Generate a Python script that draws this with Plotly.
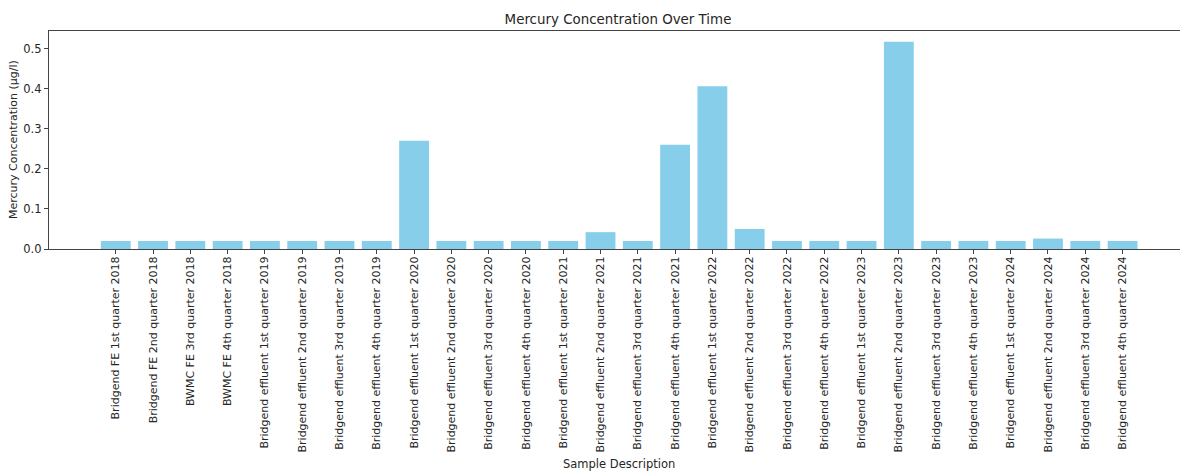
import plotly.graph_objects as go

categories = [
    "Bridgend FE 1st quarter 2018",
    "Bridgend FE 2nd quarter 2018",
    "BWMC FE 3rd quarter 2018",
    "BWMC FE 4th quarter 2018",
    "Bridgend effluent 1st quarter 2019",
    "Bridgend effluent 2nd quarter 2019",
    "Bridgend effluent 3rd quarter 2019",
    "Bridgend effluent 4th quarter 2019",
    "Bridgend effluent 1st quarter 2020",
    "Bridgend effluent 2nd quarter 2020",
    "Bridgend effluent 3rd quarter 2020",
    "Bridgend effluent 4th quarter 2020",
    "Bridgend effluent 1st quarter 2021",
    "Bridgend effluent 2nd quarter 2021",
    "Bridgend effluent 3rd quarter 2021",
    "Bridgend effluent 4th quarter 2021",
    "Bridgend effluent 1st quarter 2022",
    "Bridgend effluent 2nd quarter 2022",
    "Bridgend effluent 3rd quarter 2022",
    "Bridgend effluent 4th quarter 2022",
    "Bridgend effluent 1st quarter 2023",
    "Bridgend effluent 2nd quarter 2023",
    "Bridgend effluent 3rd quarter 2023",
    "Bridgend effluent 4th quarter 2023",
    "Bridgend effluent 1st quarter 2024",
    "Bridgend effluent 2nd quarter 2024",
    "Bridgend effluent 3rd quarter 2024",
    "Bridgend effluent 4th quarter 2024",
]

mercury = [
    0.02, 0.02, 0.02, 0.02,
    0.02, 0.02, 0.02, 0.02,
    0.27, 0.02, 0.02, 0.02,
    0.02, 0.042, 0.02, 0.26,
    0.406, 0.05, 0.02, 0.02,
    0.02, 0.517, 0.02, 0.02,
    0.02, 0.026, 0.02, 0.02,
]

y_ticks = [0.0, 0.1, 0.2, 0.3, 0.4, 0.5]
y_tick_labels = ["0.0", "0.1", "0.2", "0.3", "0.4", "0.5"]

FONT = "DejaVu Sans, Liberation Sans, sans-serif"
TXT = "#262626"
AX = "#444444"

W, H = 1180, 471
L, R, T, B = 49, 0, 31, 222

fig = go.Figure(
    go.Bar(
        x=list(range(len(categories))),
        y=mercury,
        marker=dict(color="#87CEEB", line=dict(width=0)),
        width=0.8,
    )
)

fig.update_layout(
    width=W,
    height=H,
    margin=dict(l=L, r=R, t=T, b=B, autoexpand=False),
    paper_bgcolor="white",
    plot_bgcolor="white",
    showlegend=False,
    font=dict(family=FONT, size=11, color=TXT),
    title=dict(
        text="Mercury Concentration Over Time",
        x=618 / W, xanchor="center",
        y=1 - 19 / H, yanchor="middle",
        font=dict(size=13.4, color=TXT),
    ),
    annotations=[
        dict(
            text="Sample Description",
            xref="paper", yref="paper",
            x=(619 - L) / (W - L - R), y=-(464 - (H - B)) / (H - T - B),
            xanchor="center", yanchor="middle",
            showarrow=False,
            font=dict(size=11.5, color=TXT),
        ),
        dict(
            text="Mercury Concentration (µg/l)",
            xref="paper", yref="paper",
            x=-(L - 13) / (W - L - R), y=(H - B - 140) / (H - T - B),
            xanchor="center", yanchor="middle",
            textangle=-90,
            showarrow=False,
            font=dict(size=11, color=TXT),
        ),
    ],
)

fig.update_xaxes(
    range=[-1.79, 28.54],
    tickmode="array",
    tickvals=list(range(len(categories))),
    ticktext=categories,
    tickangle=-90,
    ticks="outside",
    ticklen=4,
    tickcolor=AX,
    tickfont=dict(size=11, color=TXT),
    ticklabelstandoff=-2,
    showline=True,
    linecolor=AX,
    linewidth=1.2,
    mirror=True,
    showgrid=False,
    zeroline=False,
    automargin=False,
)

fig.update_yaxes(
    range=[0, 0.5438],
    tickmode="array",
    tickvals=y_ticks,
    ticktext=y_tick_labels,
    ticks="outside",
    ticklen=4,
    tickcolor=AX,
    tickfont=dict(size=11.5, color=TXT),
    showline=True,
    linecolor=AX,
    linewidth=1.2,
    showgrid=False,
    zeroline=False,
    automargin=False,
)

fig.write_html("out.html", config={"displayModeBar": False})

# remove the default page margin so the figure sits at the window's corner
with open("out.html", "r", encoding="utf-8") as f:
    html = f.read()
html = html.replace("<head>", "<head><style>html,body{margin:0;padding:0;overflow:hidden;}</style>", 1)
with open("out.html", "w", encoding="utf-8") as f:
    f.write(html)
